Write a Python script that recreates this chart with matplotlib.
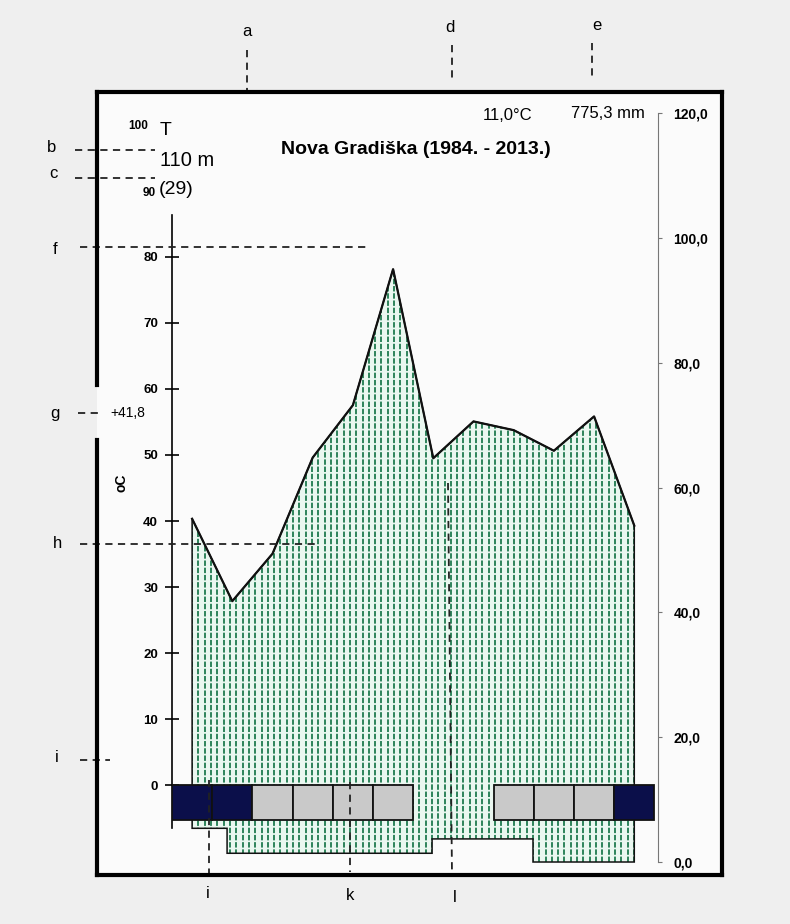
import numpy as np
import matplotlib.pyplot as plt
from matplotlib.lines import Line2D
from matplotlib.patches import Polygon, Rectangle

plt.rcParams['font.family'] = ['Liberation Sans', 'DejaVu Sans']

# monthly precipitation (mm), Nova Gradiska 1984-2013
months = np.arange(12)
precip = [55.0, 41.8, 49.4, 64.8, 73.2, 95.0, 64.7, 70.6, 69.2, 65.9, 71.4, 53.9]
# frost boxes: 'sure' = certain frost, 'prob' = probable frost
frost = ['sure', 'sure', 'prob', 'prob', 'prob', 'prob', '', '', 'prob', 'prob', 'prob', 'sure']
frost_colors = {'sure': '#0b0f4a', 'prob': '#c9c9c9'}
# lower edge of the hatched block (month position from/to, mm)
hatch_from = [0.5, 1.37, 6.47, 8.98]
hatch_to = [1.37, 6.47, 8.98, 11.5]
hatch_floor = [5.4, 1.4, 3.7, 0.0]
temp_ticks = [0, 10, 20, 30, 40, 50, 60, 70, 80]
precip_ticks = [0, 20, 40, 60, 80, 100, 120]

W, H = 790, 924


def fx(px):
    return px / W


def fy(py):
    return 1 - py / H


def fig_line(x0, y0, x1, y1, **kw):
    fig.add_artist(Line2D([fx(x0), fx(x1)], [fy(y0), fy(y1)], transform=fig.transFigure, **kw))


def dashed(x0, y0, x1, y1):
    fig_line(x0, y0, x1, y1, color='#222222', lw=1.3, linestyle=(0, (4, 3)), zorder=6)


fig = plt.figure(figsize=(7.9, 9.24), dpi=100, facecolor='#efefef')
fig.add_artist(Rectangle((fx(97), fy(875)), fx(722) - fx(97), fy(92) - fy(875),
                         transform=fig.transFigure, facecolor='#fbfbfb', edgecolor='none', zorder=0))

ax = fig.add_axes([fx(172), fy(866), fx(658) - fx(172), fy(110) - fy(866)])
ax.patch.set_visible(False)
ax.set_xlim(0, 12.09)
ax.set_ylim(-0.64, 120.5)

centres = months + 0.5
verts = list(zip(centres, precip))
for i in reversed(range(len(hatch_floor))):
    verts.append((hatch_to[i], hatch_floor[i]))
    verts.append((hatch_from[i], hatch_floor[i]))

poly = Polygon(verts, closed=True, facecolor='#eaf7f0', edgecolor='none', zorder=1)
ax.add_patch(poly)
xs = np.arange(0.5, 11.6, 0.157)
vl = ax.vlines(xs, 0, 120, colors='#1f7a4f', lw=1.3, linestyles=(0, (3, 1)), zorder=2)
vl.set_clip_path(poly)
ax.add_patch(Polygon(verts, closed=True, facecolor='none', edgecolor='#111111', lw=1.1, zorder=3))
ax.plot(centres, precip, color='#111111', lw=1.6, zorder=4)

ax2 = ax.twinx()
ax2.set_ylim(-12.27, 102.27)
for m in months:
    if frost[m]:
        ax2.bar(m, 5.3, bottom=-5.3, width=1, align='edge', color=frost_colors[frost[m]],
                edgecolor='#111111', lw=1.3, zorder=5)

for a in (ax, ax2):
    for s in a.spines.values():
        s.set_visible(False)
    a.set_xticks([])

ax.yaxis.tick_right()
ax.spines['right'].set_visible(True)
ax.spines['right'].set_color('#777777')
ax.spines['right'].set_bounds(0, 120)
ax.set_yticks(precip_ticks)
ax.set_yticklabels([f"{v:.1f}".replace('.', ',') for v in precip_ticks], fontweight='bold')
ax.tick_params(axis='y', direction='out', length=3, color='#777777', labelsize=10, pad=8)

ax2.yaxis.tick_left()
ax2.spines['left'].set_visible(True)
ax2.spines['left'].set_bounds(-6.5, 86.4)
ax2.spines['left'].set_linewidth(1.2)
ax2.set_yticks(temp_ticks)
ax2.set_yticklabels([str(v) for v in temp_ticks], fontweight='bold')
ax2.tick_params(axis='y', direction='inout', length=10, width=1.2, labelsize=9.5, pad=5)

# frame of the diagram
fig_line(97, 92, 722, 92, color='k', lw=3, zorder=7)
fig_line(722, 92, 722, 875, color='k', lw=3, zorder=7)
fig_line(97, 875, 722, 875, color='k', lw=3, zorder=7)
fig_line(97, 92, 97, 385, color='k', lw=3, zorder=7)
fig_line(97, 440, 97, 875, color='k', lw=3, zorder=7)

# texts inside the diagram
fig.text(fx(416), fy(150), 'Nova Gradiška (1984. - 2013.)', fontsize=14, fontweight='bold',
         ha='center', va='center')
fig.text(fx(148), fy(126), '100', fontsize=8.5, fontweight='bold', ha='right', va='center')
fig.text(fx(160), fy(130), 'T', fontsize=14, ha='left', va='center')
fig.text(fx(160), fy(160), '110 m', fontsize=14.5, ha='left', va='center')
fig.text(fx(156), fy(193), '90', fontsize=8.5, fontweight='bold', ha='right', va='center')
fig.text(fx(159), fy(189), '(29)', fontsize=14, ha='left', va='center')
fig.text(fx(508), fy(115), '11,0°C', fontsize=12, ha='center', va='center')
fig.text(fx(608), fy(114), '775,3 mm', fontsize=12, ha='center', va='center')
fig.text(fx(121), fy(483), 'oC', fontsize=10, fontweight='bold', rotation=90, ha='center', va='center')
fig.text(fx(128), fy(413), '+41,8', fontsize=10, ha='center', va='center')

# explanation letters with dashed pointers
letters = [('a', 247, 32), ('d', 450, 28), ('e', 597, 25), ('b', 52, 147), ('c', 53, 173),
           ('f', 55, 249), ('g', 55, 413), ('h', 57, 544), ('i', 57, 758),
           ('i', 208, 893), ('k', 350, 895), ('l', 455, 897)]
for txt, x, y in letters:
    fig.text(fx(x), fy(y), txt, fontsize=12, ha='center', va='center')

dashed(247, 50, 247, 93)
dashed(452, 45, 452, 82)
dashed(592, 43, 592, 80)
dashed(75, 150, 155, 150)
dashed(75, 178, 155, 178)
dashed(80, 247, 370, 247)
dashed(78, 413, 100, 413)
dashed(80, 544, 320, 544)
dashed(80, 760, 110, 760)
dashed(209, 780, 209, 875)
dashed(350, 782, 350, 872)
dashed(448, 483, 452, 875)

fig.savefig('out.png', dpi=100, facecolor=fig.get_facecolor())
